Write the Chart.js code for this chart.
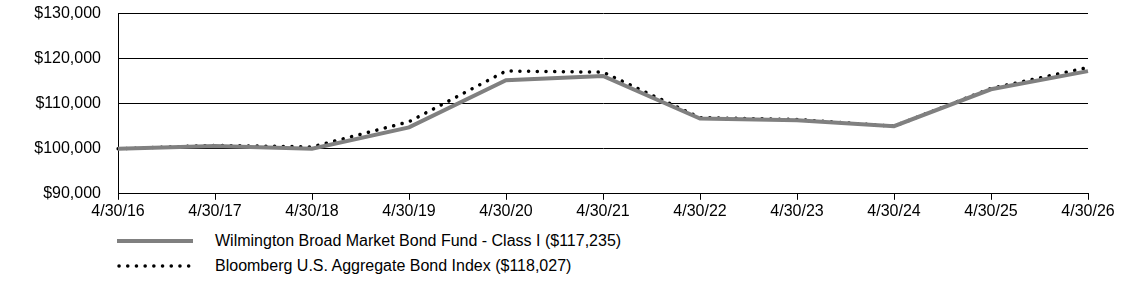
<!DOCTYPE html>
<html>
<head>
<meta charset="utf-8">
<script src="https://cdn.jsdelivr.net/npm/chart.js@4/dist/chart.umd.min.js"></script>
<style>
  body { margin: 0; background: #fff; font-family: "Liberation Sans", Arial, sans-serif; overflow: hidden; }
  #wrap { position: absolute; left: 0; top: -13px; width: 1123px; height: 236px; }
  .legend { position: absolute; left: 117px; font-size: 16px; color: #000; }
  .legend-row { position: absolute; left: 0; white-space: nowrap; height: 20px; line-height: 20px; }
  .legend-row svg { position: absolute; left: 0; top: 6px; }
  .legend-row span { position: absolute; left: 98px; top: 0; }
</style>
</head>
<body>
<div id="wrap"><canvas id="growthChart"></canvas></div>
<div class="legend" style="top:0">
  <div class="legend-row" style="top:231px">
    <svg width="80" height="8"><line x1="0" y1="4" x2="76" y2="4" stroke="#808080" stroke-width="4"/></svg>
    <span>Wilmington Broad Market Bond Fund - Class I ($117,235)</span>
  </div>
  <div class="legend-row" style="top:256px">
    <svg width="80" height="8"><line x1="2" y1="4" x2="76" y2="4" stroke="#000" stroke-width="3.5" stroke-linecap="round" stroke-dasharray="0.1 8.6"/></svg>
    <span>Bloomberg U.S. Aggregate Bond Index ($118,027)</span>
  </div>
</div>
<script>
const periods = ["4/30/16", "4/30/17", "4/30/18", "4/30/19", "4/30/20", "4/30/21", "4/30/22", "4/30/23", "4/30/24", "4/30/25", "4/30/26"];
const fundValues = [100000, 100600, 100000, 104750, 115200, 116150, 106700, 106300, 105000, 113200, 117235];
const indexValues = [100000, 100750, 100400, 106000, 117250, 117000, 106900, 106500, 105000, 113400, 118027];
const yTicks = [90000, 100000, 110000, 120000, 130000];

const ctx = document.getElementById("growthChart");

new Chart(ctx, {
  type: "line",
  data: {
    labels: periods,
    datasets: [
      {
        label: "Wilmington Broad Market Bond Fund - Class I ($117,235)",
        data: fundValues,
        borderColor: "#808080",
        borderWidth: 4,
        pointRadius: 0,
        tension: 0,
      },
      {
        label: "Bloomberg U.S. Aggregate Bond Index ($118,027)",
        data: indexValues,
        borderColor: "#000000",
        borderWidth: 3.5,
        borderCapStyle: "round",
        borderDash: [0.1, 8.6],
        pointRadius: 0,
        tension: 0,
      },
    ],
  },
  options: {
    responsive: true,
    maintainAspectRatio: false,
    animation: false,
    layout: {
      padding: { top: 5, right: 35, left: 0, bottom: 0 },
    },
    plugins: {
      legend: { display: false },
      tooltip: { enabled: false },
    },
    scales: {
      x: {
        offset: false,
        grid: {
          drawOnChartArea: false,
          drawTicks: true,
          tickLength: 6,
          color: "#000",
        },
        border: { color: "#000", width: 1 },
        ticks: {
          color: "#000",
          font: { family: "Liberation Sans", size: 16 },
          maxRotation: 0,
          autoSkip: false,
          padding: 2,
        },
      },
      y: {
        min: 90000,
        max: 130000,
        afterBuildTicks: function (scale) {
          scale.ticks = yTicks.map((v) => ({ value: v }));
        },
        afterFit: function (scale) {
          scale.width = 118;
        },
        grid: {
          drawTicks: false,
          color: "#000",
          lineWidth: 1,
        },
        border: { color: "#000", width: 1 },
        ticks: {
          color: "#000",
          padding: 17,
          font: { family: "Liberation Sans", size: 16 },
          callback: function (value) {
            return "$" + value.toLocaleString("en-US");
          },
        },
      },
    },
  },
});
</script>
</body>
</html>
